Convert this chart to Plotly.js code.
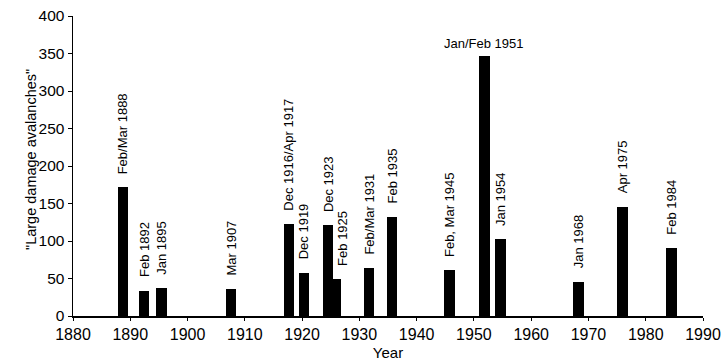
<!DOCTYPE html>
<html>
<head>
<meta charset="utf-8">
<script src="https://cdn.plot.ly/plotly-3.0.1.min.js"></script>
<style>
  html, body { margin: 0; padding: 0; background: #fff; }
  #chart { width: 721px; height: 363px; }
</style>
</head>
<body>
<div id="chart"></div>
<script>
// Data
const barYears = [1888.7, 1892.4, 1895.4, 1907.6, 1917.7, 1920.3, 1924.5, 1925.9, 1931.7, 1935.7, 1945.7, 1951.8, 1954.6, 1968.3, 1975.9, 1984.5];
const avalanches = [172, 34, 38, 36, 123, 58, 121, 50, 64, 132, 61, 347, 103, 46, 146, 91];
const eventLabels = ["Feb/Mar 1888", "Feb 1892", "Jan 1895", "Mar 1907", "Dec 1916/Apr 1917", "Dec 1919", "Dec 1923", "Feb 1925", "Feb/Mar 1931", "Feb 1935", "Feb, Mar 1945", "Jan/Feb 1951", "Jan 1954", "Jan 1968", "Apr 1975", "Feb 1984"];
const xTickVals = [1880, 1890, 1900, 1910, 1920, 1930, 1940, 1950, 1960, 1970, 1980, 1990];
const yTickVals = [0, 50, 100, 150, 200, 250, 300, 350, 400];
const xTitle = "Year";
const yTitle = "\"Large damage avalanches\"";

// Label styling (horizontal label for the tallest bar, small nudge for crowded one)
const horizontalLabel = "Jan/Feb 1951";
const labelXShift = { "Feb 1925": 6 };

const font = "Arial, 'Liberation Sans', Helvetica, sans-serif";

const trace = {
  type: "bar",
  x: barYears,
  y: avalanches,
  width: 1.85,
  marker: { color: "#000", line: { width: 0 } },
  hoverinfo: "skip"
};

const annotations = eventLabels.map((t, i) => {
  const horiz = t === horizontalLabel;
  return {
    x: barYears[i],
    y: avalanches[i],
    xref: "x", yref: "y",
    text: t,
    showarrow: false,
    textangle: horiz ? 0 : -90,
    xanchor: "center",
    yanchor: "bottom",
    yshift: horiz ? 3 : 11,
    xshift: labelXShift[t] || 0,
    font: { family: font, size: 13, color: "#000" }
  };
});

annotations.push({
  xref: "paper", yref: "paper",
  x: 0, y: 0.5,
  xshift: -42, yshift: 6,
  xanchor: "center", yanchor: "middle",
  textangle: -90,
  text: yTitle,
  showarrow: false,
  font: { family: font, size: 14.5, color: "#000" }
});

const layout = {
  width: 721,
  height: 363,
  margin: { l: 73, r: 18, t: 16, b: 47, pad: 0 },
  paper_bgcolor: "#fff",
  plot_bgcolor: "#fff",
  showlegend: false,
  bargap: 0,
  xaxis: {
    range: [1880, 1990],
    tickvals: xTickVals,
    ticktext: xTickVals.map(String),
    ticks: "outside",
    ticklen: 3,
    tickwidth: 1,
    tickcolor: "#000",
    showline: true,
    linecolor: "#000",
    linewidth: 1.5,
    showgrid: false,
    zeroline: false,
    tickfont: { family: font, size: 16, color: "#000" },
    title: { text: xTitle, font: { family: font, size: 15, color: "#000" }, standoff: 6 },
    fixedrange: true
  },
  yaxis: {
    range: [0, 400],
    tickvals: yTickVals,
    ticktext: yTickVals.map(String),
    ticks: "outside",
    ticklen: 4,
    tickwidth: 1,
    tickcolor: "#000",
    showline: true,
    linecolor: "#000",
    linewidth: 1.5,
    showgrid: false,
    zeroline: false,
    tickfont: { family: font, size: 15.5, color: "#000" },
    fixedrange: true
  },
  annotations: annotations
};

Plotly.newPlot("chart", [trace], layout, { displayModeBar: false, staticPlot: true });
</script>
</body>
</html>
